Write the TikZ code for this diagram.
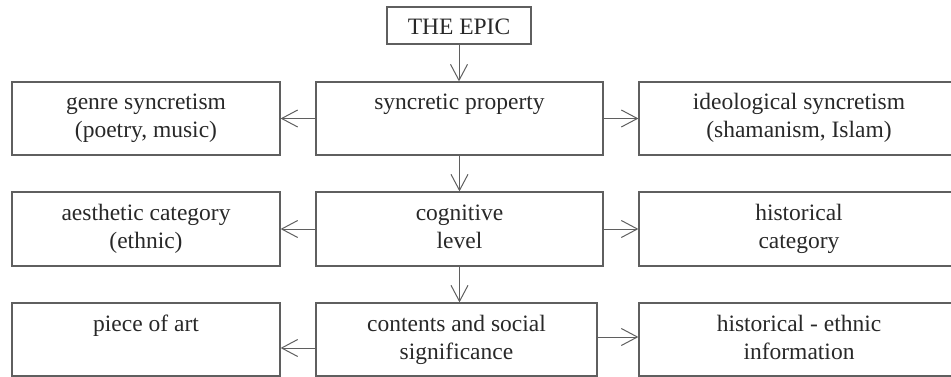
\documentclass[tikz,border=0pt]{standalone}
\usepackage{fontspec}
\setmainfont{Liberation Serif}
\usetikzlibrary{arrows.meta}
\definecolor{lin}{RGB}{95,95,95}
\definecolor{ink}{RGB}{40,40,40}
\tikzset{
  box/.style={draw=lin, line width=1.2pt, rectangle, inner sep=0pt},
  txt/.style={text=ink, inner sep=0pt, anchor=base, font=\fontsize{23.5}{28}\selectfont},
  conn/.style={draw=lin, line width=1pt, -{Straight Barb[length=16pt,width=17pt,line width=1pt]}}
}
\begin{document}
\begin{tikzpicture}[x=1pt,y=-1pt]
\useasboundingbox (0,0) rectangle (951,377);
% boxes
\node[box, minimum width=144pt, minimum height=37pt] (epic) at (459,25.5) {};
\node[box, minimum width=268pt, minimum height=73pt] (genre) at (146,118.5) {};
\node[box, minimum width=287pt, minimum height=73pt] (sync) at (459.5,118.5) {};
\node[box, minimum width=320pt, minimum height=73pt] (ideo) at (799,118.5) {};
\node[box, minimum width=268pt, minimum height=74pt] (aest) at (146,229) {};
\node[box, minimum width=287pt, minimum height=74pt] (cogn) at (459.5,229) {};
\node[box, minimum width=320pt, minimum height=74pt] (hist) at (799,229) {};
\node[box, minimum width=268pt, minimum height=73pt] (piece) at (146,339.5) {};
\node[box, minimum width=281pt, minimum height=73pt] (cont) at (456.5,339.5) {};
\node[box, minimum width=320pt, minimum height=73pt] (hinf) at (799,339.5) {};
% texts
\node[txt] (t0) at (459,35) {THE EPIC};
\node[txt] (t1a) at (146,110) {genre syncretism};
\node[txt] (t1b) at (146,138) {(poetry, music)};
\node[txt] (t2a) at (459.5,110) {syncretic property};
\node[txt] (t3a) at (799,110) {ideological syncretism};
\node[txt] (t3b) at (799,138) {(shamanism, Islam)};
\node[txt] (t4a) at (146,220) {aesthetic category};
\node[txt] (t4b) at (146,248) {(ethnic)};
\node[txt] (t5a) at (459.5,220) {cognitive};
\node[txt] (t5b) at (459.5,248) {level};
\node[txt] (t6a) at (799,220) {historical};
\node[txt] (t6b) at (799,248) {category};
\node[txt] (t7a) at (146,331) {piece of art};
\node[txt] (t8a) at (456.5,331) {contents and social};
\node[txt] (t8b) at (456.5,359) {significance};
\node[txt] (t9a) at (799,331) {historical - ethnic};
\node[txt] (t9b) at (799,359) {information};
% connectors
\draw[conn] (epic.south) -- (epic.south |- sync.north);
\draw[conn] (sync.west) -- (genre.east);
\draw[conn] (sync.east) -- (ideo.west);
\draw[conn] (sync.south) -- (cogn.north);
\draw[conn] (cogn.west) -- (aest.east);
\draw[conn] (cogn.east) -- (hist.west);
\draw[conn] (cogn.south) -- (cogn.south |- cont.north);
\draw[conn] ([yshift=-8.5pt]cont.west) -- ([yshift=-8.5pt]piece.east);
\draw[conn] ([yshift=2.5pt]cont.east) -- ([yshift=2.5pt]hinf.west);
\end{tikzpicture}
\end{document}
